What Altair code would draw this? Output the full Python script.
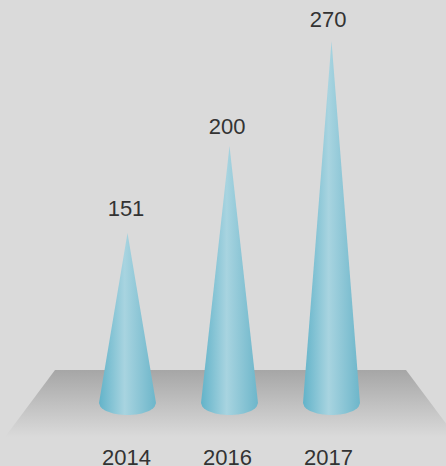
import math
import altair as alt
import pandas as pd

years = ["2014", "2016", "2017"]
values = [151, 200, 270]
half_width = 0.2794      # cone base half width, in category steps
base_depth = 12          # depth of the base arc, in value units
arc_steps = 40

BG = "#dadada"
FONT = "Liberation Sans"

floor = pd.DataFrame({"y": [370, 437], "x": [55, 5], "x2": [406, 456]})

cone_rows, arc_rows = [], []
for i, (yr, v) in enumerate(zip(years, values)):
    cone_rows += [
        {"year": yr, "x": i - half_width, "top": 0},
        {"year": yr, "x": i, "top": v},
        {"year": yr, "x": i + half_width, "top": 0},
    ]
    for k in range(arc_steps + 1):
        t = -1 + 2 * k / arc_steps
        arc_rows.append({"year": yr, "x": i + t * half_width, "low": -base_depth * math.sqrt(1 - t * t)})
cones = pd.DataFrame(cone_rows)
arcs = pd.DataFrame(arc_rows)
arcs["top"] = 0
cones["zero"] = 0
labels = pd.DataFrame({"i": range(3), "label": [str(v) for v in values], "y": values})

cone_fill = alt.Gradient(
    gradient="linear", x1=0, x2=1, y1=0, y2=0,
    stops=[alt.GradientStop(offset=0, color="#62b3c9"),
           alt.GradientStop(offset=0.45, color="#a8d4e0"),
           alt.GradientStop(offset=1, color="#6db6ca")],
)
floor_fill = alt.Gradient(
    gradient="linear", x1=0, x2=0, y1=0, y2=1,
    stops=[alt.GradientStop(offset=0, color="#a6a6a6"),
           alt.GradientStop(offset=1, color=BG)],
)

x_scale = alt.Scale(domain=[-1.25, 3.1225], nice=False, zero=False)
y_scale = alt.Scale(domain=[-base_depth, 0, 151, 200, 270], range=[415, 403, 233, 146, 41],
                    nice=False, zero=False)
label_x_scale = alt.Scale(domain=[-1.2475, 3.168], nice=False, zero=False)
label_y_scale = alt.Scale(domain=[151, 200, 270], range=[209, 127, 20], nice=False, zero=False)
x_axis = alt.Axis(values=[0, 1, 2], labelExpr="['2014','2016','2017'][datum.value]",
                  grid=False, domain=False, ticks=False, title=None, labelPadding=7,
                  labelFontSize=22, labelFont=FONT, labelColor="#333333",
                  labelOverlap=False, labelFlush=False)

floor_layer = alt.Chart(floor).mark_area(orient="horizontal", fill=floor_fill, clip=True).encode(
    y=alt.Y("y:Q", scale=alt.Scale(domain=[0, 440], range=[0, 440], nice=False, zero=False), axis=None),
    x=alt.X("x:Q", scale=alt.Scale(domain=[0, 446], nice=False, zero=False), axis=None, stack=None),
    x2="x2:Q",
)

cone_layer = alt.Chart(cones).mark_area(fill=cone_fill).encode(
    x=alt.X("x:Q", scale=x_scale, axis=None),
    y=alt.Y("top:Q", scale=y_scale, axis=None, stack=None),
    y2="zero:Q",
    detail="year:N",
)
arc_layer = alt.Chart(arcs).mark_area(fill=cone_fill).encode(
    x=alt.X("x:Q", scale=x_scale, axis=None),
    y=alt.Y("top:Q", scale=y_scale, axis=None, stack=None),
    y2="low:Q",
    detail="year:N",
)
text_layer = alt.Chart(labels).mark_text(font=FONT, fontSize=22, color="#333333", baseline="middle").encode(
    x=alt.X("i:Q", scale=label_x_scale, axis=x_axis),
    y=alt.Y("y:Q", scale=label_y_scale, axis=None),
    text="label:N",
)

marks = alt.layer(cone_layer, arc_layer)

chart = alt.layer(floor_layer, marks, text_layer).resolve_scale(x="independent", y="independent").properties(
    width=446, height=440, background=BG,
    padding={"left": 0, "top": 0, "right": 0, "bottom": 26},
    autosize=alt.AutoSizeParams(type="none"),
).configure_view(stroke=None)

chart.save("out.html", embed_options={
    "renderer": "svg", "actions": False,
    "defaultStyle": "html,body{margin:0;background:#dadada;overflow:hidden}",
})
